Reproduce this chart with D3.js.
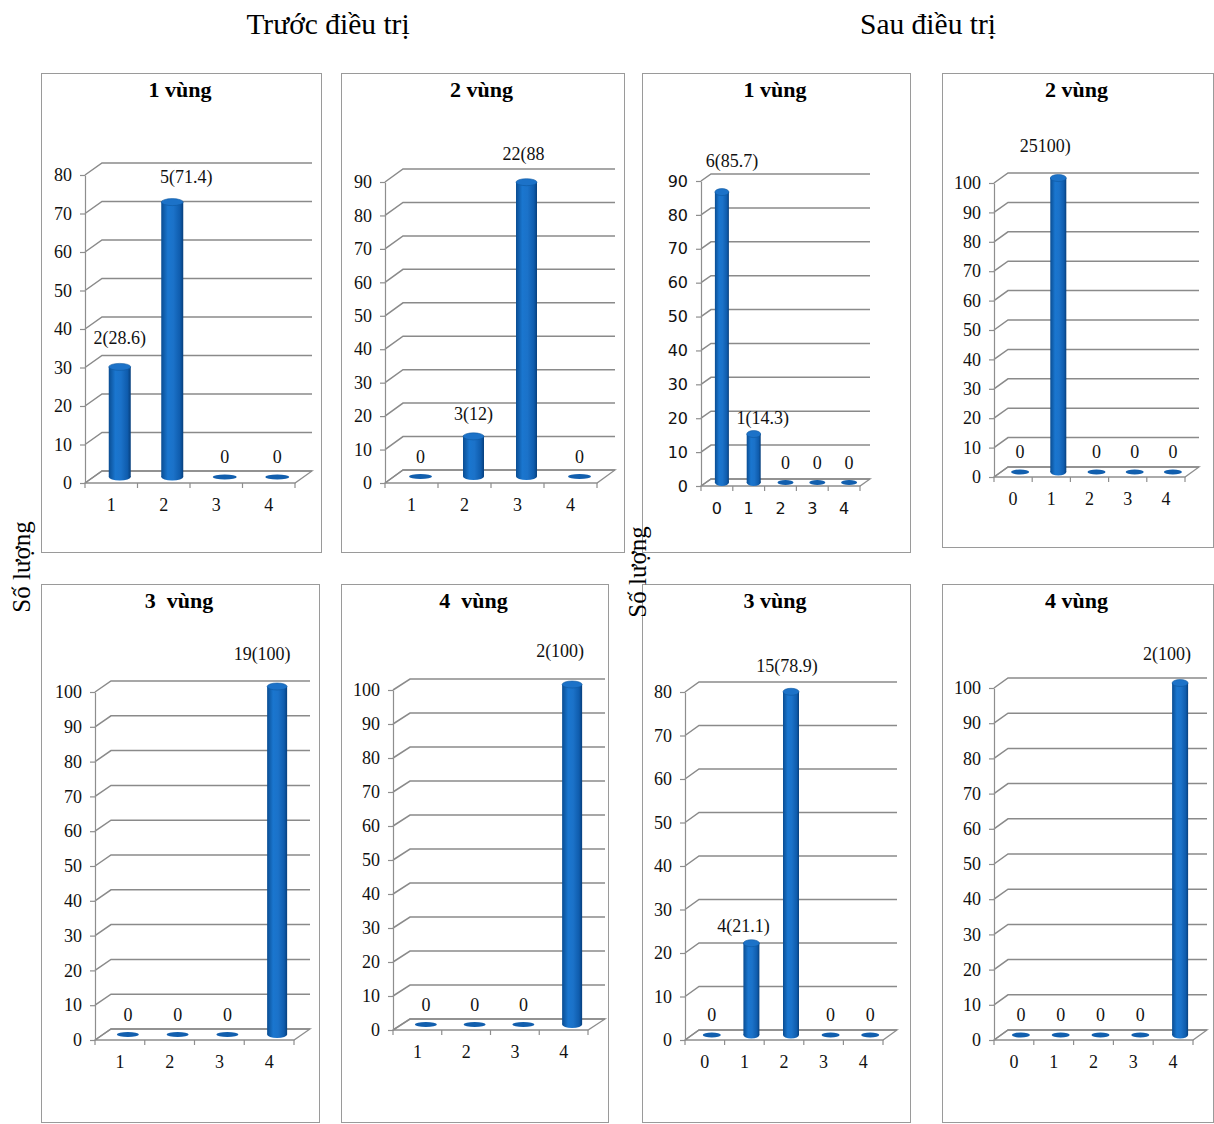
<!DOCTYPE html>
<html>
<head>
<meta charset="utf-8">
<title>Số lượng trước và sau điều trị</title>
<script src="https://cdn.jsdelivr.net/npm/d3@7"></script>
<style>
  body { margin: 0; background: #fff; }
  svg { display: block; }
</style>
</head>
<body>
<script>
// categories
var catsTruoc = ["1", "2", "3", "4"];
var catsSau = ["0", "1", "2", "3", "4"];

// values (percent) and printed labels, per panel
var truoc1Vals = [28.6, 71.4, 0, 0];
var truoc1Labels = ["2(28.6)", "5(71.4)", "0", "0"];
var truoc2Vals = [0, 12, 88, 0];
var truoc2Labels = ["0", "3(12)", "22(88", "0"];
var truoc3Vals = [0, 0, 0, 100];
var truoc3Labels = ["0", "0", "0", "19(100)"];
var truoc4Vals = [0, 0, 0, 100];
var truoc4Labels = ["0", "0", "0", "2(100)"];

var sau1Vals = [85.7, 14.3, 0, 0, 0];
var sau1Labels = ["6(85.7)", "1(14.3)", "0", "0", "0"];
var sau2Vals = [0, 100, 0, 0, 0];
var sau2Labels = ["0", "25100)", "0", "0", "0"];
var sau3Vals = [0, 21.1, 78.9, 0, 0];
var sau3Labels = ["0", "4(21.1)", "15(78.9)", "0", "0"];
var sau4Vals = [0, 0, 0, 0, 100];
var sau4Labels = ["0", "0", "0", "0", "2(100)"];

var yMaxes = [80, 90, 90, 100, 100, 100, 80, 100];

var serif = "'Liberation Serif', 'Times New Roman', serif";
var sans = "'DejaVu Sans', Verdana, sans-serif";

// panel layout: frame, front axis box, depth offset, bar width, label nudges
var panels = [
  {title: "1 vùng", cats: catsTruoc, vals: truoc1Vals, labels: truoc1Labels, yMax: yMaxes[0],
   frame: [41, 73, 280, 479], ax: 85, aw: 210, base: 483, ah: 308, dx: 17, dy: -12, bw: 22,
   tickFont: serif, ndx: [0, 14, 0, 0], ndy: [-3, 1, 0, 0]},
  {title: "2 vùng", cats: catsTruoc, vals: truoc2Vals, labels: truoc2Labels, yMax: yMaxes[1],
   frame: [341, 73, 283, 479], ax: 385, aw: 212, base: 483, ah: 301, dx: 18, dy: -13, bw: 21,
   tickFont: serif, ndx: [0, 0, -3, 0], ndy: [0, 3, -2, 0]},
  {title: "1 vùng", cats: catsSau, vals: sau1Vals, labels: sau1Labels, yMax: yMaxes[2],
   frame: [642, 73, 268, 479], ax: 701, aw: 159, base: 486, ah: 305, dx: 10, dy: -7, bw: 14,
   tickFont: sans, ndx: [10, 9, 0, 0, 0], ndy: [-5, 10, 0, 0, 0]},
  {title: "2 vùng", cats: catsSau, vals: sau2Vals, labels: sau2Labels, yMax: yMaxes[3],
   frame: [942, 73, 271, 474], ax: 994, aw: 191, base: 477, ah: 294, dx: 14, dy: -10, bw: 16,
   tickFont: serif, ndx: [0, -13, 0, 0, 0], ndy: [0, -6, 0, 0, 0]},
  {title: "3  vùng", cats: catsTruoc, vals: truoc3Vals, labels: truoc3Labels, yMax: yMaxes[4],
   frame: [41, 584, 278, 538], ax: 95, aw: 199, base: 1040, ah: 348, dx: 16, dy: -11, bw: 20,
   tickFont: serif, ndx: [0, 0, 0, -15], ndy: [0, 0, 0, -7]},
  {title: "4  vùng", cats: catsTruoc, vals: truoc4Vals, labels: truoc4Labels, yMax: yMaxes[5],
   frame: [341, 584, 267, 538], ax: 393, aw: 195, base: 1030, ah: 340, dx: 17, dy: -11, bw: 20,
   tickFont: serif, ndx: [0, 0, 0, -12], ndy: [0, 0, 0, -8]},
  {title: "3 vùng", cats: catsSau, vals: sau3Vals, labels: sau3Labels, yMax: yMaxes[6],
   frame: [642, 584, 268, 538], ax: 685, aw: 198, base: 1040, ah: 348, dx: 14, dy: -10, bw: 16,
   tickFont: serif, ndx: [0, -8, -4, 0, 0], ndy: [0, 8, 0, 0, 0]},
  {title: "4 vùng", cats: catsSau, vals: sau4Vals, labels: sau4Labels, yMax: yMaxes[7],
   frame: [942, 584, 271, 538], ax: 994, aw: 199, base: 1040, ah: 352, dx: 14, dy: -10, bw: 16,
   tickFont: serif, ndx: [0, 0, 0, 0, -13], ndy: [0, 0, 0, 0, -3]}
];

var svg = d3.select("body").append("svg")
  .attr("width", 1214)
  .attr("height", 1124);

// cylinder gradient
var defs = svg.append("defs");
var grad = defs.append("linearGradient").attr("id", "cyl")
  .attr("x1", "0%").attr("x2", "100%").attr("y1", "0%").attr("y2", "0%");
[[0, "#0a4d92"], [0.3, "#1a76cf"], [0.55, "#1b72c9"], [0.85, "#0f5cad"], [1, "#073f7c"]]
  .forEach(function(s) {
    grad.append("stop").attr("offset", s[0]).attr("stop-color", s[1]);
  });

// group headings
svg.append("text").attr("x", 328).attr("y", 34).attr("text-anchor", "middle")
  .style("font-family", serif).style("font-size", "29.5px").text("Trước điều trị");
svg.append("text").attr("x", 928).attr("y", 34).attr("text-anchor", "middle")
  .style("font-family", serif).style("font-size", "29.5px").text("Sau điều trị");

panels.forEach(drawPanel);

// y axis titles (drawn last, second one sits over the frame line)
[[30, 567], [646, 572]].forEach(function(p) {
  svg.append("text")
    .attr("transform", "translate(" + p[0] + "," + p[1] + ") rotate(-90)")
    .attr("text-anchor", "middle")
    .style("font-family", serif).style("font-size", "25px")
    .text("Số lượng");
});

function drawPanel(p) {
  var g = svg.append("g");
  var f = p.frame;
  g.append("rect")
    .attr("x", f[0] + 0.5).attr("y", f[1] + 0.5)
    .attr("width", f[2]).attr("height", f[3])
    .attr("fill", "#fff").attr("stroke", "#9a9a9a").attr("stroke-width", 1);

  g.append("text")
    .attr("x", f[0] + f[2] / 2 - 1).attr("y", f[1] + 24)
    .attr("text-anchor", "middle")
    .style("font-family", serif).style("font-size", "22px").style("font-weight", "bold")
    .style("white-space", "pre")
    .text(p.title);

  var y = d3.scaleLinear().domain([0, p.yMax]).range([p.base, p.base - p.ah]);
  var x = d3.scaleBand().domain(p.cats).range([p.ax, p.ax + p.aw]);
  var ticks = d3.range(0, p.yMax + 1, 10);
  var dx = p.dx, dy = p.dy;
  var tickSize = p.tickFont === sans ? "16px" : "18px";

  // floor
  g.append("path")
    .attr("d", "M" + p.ax + "," + p.base + "L" + (p.ax + p.aw) + "," + p.base +
      "L" + (p.ax + p.aw + dx) + "," + (p.base + dy) + "L" + (p.ax + dx) + "," + (p.base + dy) + "Z")
    .attr("fill", "#fff").attr("stroke", "#8e8e8e").attr("stroke-width", 1.3);

  // back wall gridlines with the slanted side-wall segment
  g.selectAll("path.grid").data(ticks).enter().append("path")
    .attr("class", "grid")
    .attr("d", function(t) {
      return "M" + p.ax + "," + y(t) + "L" + (p.ax + dx) + "," + (y(t) + dy) +
        "L" + (p.ax + p.aw + dx) + "," + (y(t) + dy);
    })
    .attr("fill", "none").attr("stroke", "#8a8a8a").attr("stroke-width", 1.5);

  // front y axis
  var yAxis = g.append("g")
    .attr("transform", "translate(" + p.ax + ",0)")
    .call(d3.axisLeft(y).tickValues(ticks).tickSize(5).tickSizeOuter(0).tickPadding(8));
  yAxis.selectAll("path, line").attr("stroke", "#8e8e8e").attr("stroke-width", 1.2);
  yAxis.selectAll("text")
    .style("font-family", p.tickFont)
    .style("font-size", tickSize)
    .attr("fill", "#111");

  // front x axis ticks at category boundaries
  var bounds = p.cats.map(function(c) { return x(c); }).concat([p.ax + p.aw]);
  g.selectAll("line.xt").data(bounds).enter().append("line")
    .attr("x1", function(d) { return d; }).attr("x2", function(d) { return d; })
    .attr("y1", p.base).attr("y2", p.base + 5)
    .attr("stroke", "#8e8e8e").attr("stroke-width", 1.2);
  g.selectAll("text.xl").data(p.cats).enter().append("text")
    .attr("x", function(c) { return x(c) + x.bandwidth() / 2; })
    .attr("y", p.base + 22)
    .attr("dy", "0.35em")
    .attr("text-anchor", "middle")
    .style("font-family", p.tickFont)
    .style("font-size", tickSize)
    .attr("fill", "#111")
    .text(function(c) { return c; });

  // cylinders at mid depth
  var rows = p.cats.map(function(c, i) {
    return {cat: c, v: p.vals[i], label: p.labels[i], ndx: p.ndx[i], ndy: p.ndy[i]};
  });
  var cx = function(d) { return x(d.cat) + x.bandwidth() / 2 + dx / 2; };
  var bot = p.base + dy / 2;
  var r = p.bw / 2, ry = 3.5;

  var bars = g.selectAll("g.bar").data(rows).enter().append("g").attr("class", "bar");
  bars.each(function(d) {
    var b = d3.select(this);
    if (d.v > 0) {
      var top = y(d.v) + dy / 2;
      b.append("ellipse").attr("cx", cx(d)).attr("cy", bot).attr("rx", r).attr("ry", ry)
        .attr("fill", "url(#cyl)");
      b.append("rect").attr("x", cx(d) - r).attr("y", top)
        .attr("width", p.bw).attr("height", bot - top)
        .attr("fill", "url(#cyl)");
      b.append("ellipse").attr("cx", cx(d)).attr("cy", top).attr("rx", r).attr("ry", ry)
        .attr("fill", "#1c72c8").attr("stroke", "#0d589f").attr("stroke-width", 0.6);
    } else {
      b.append("ellipse").attr("cx", cx(d)).attr("cy", bot).attr("rx", r + 1).attr("ry", 2.6)
        .attr("fill", "#125fae");
    }
  });

  // value labels
  g.selectAll("text.val").data(rows).enter().append("text")
    .attr("x", function(d) { return cx(d) + d.ndx; })
    .attr("y", function(d) {
      return (d.v > 0 ? y(d.v) + dy / 2 - 26 : bot - 20) + d.ndy;
    })
    .attr("dy", "0.35em")
    .attr("text-anchor", "middle")
    .style("font-family", serif).style("font-size", "18px")
    .attr("fill", "#111")
    .text(function(d) { return d.label; });
}
</script>
</body>
</html>
